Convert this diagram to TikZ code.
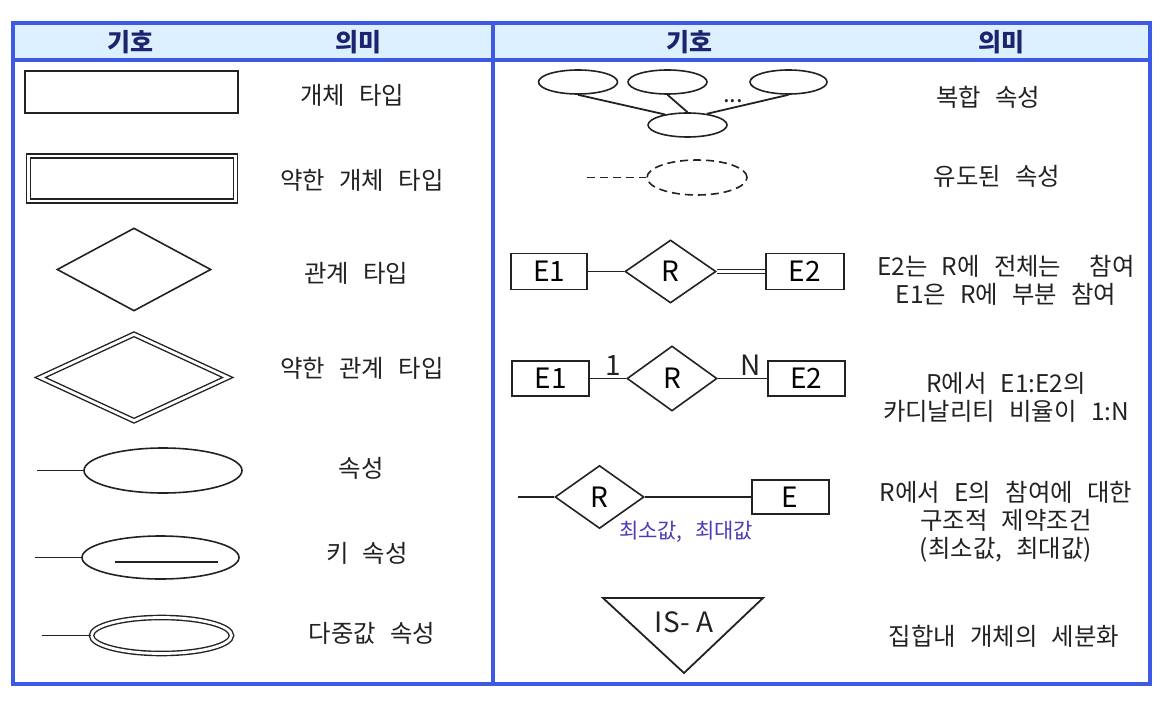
\documentclass[tikz,border=0pt]{standalone}
\usepackage{fontspec}
\setmainfont[WordSpace=2.6]{Noto Sans CJK KR}
\usepackage{tikz}
\usetikzlibrary{shapes.geometric, positioning, calc}
\definecolor{frm}{HTML}{3C5AE6}
\definecolor{fHead}{HTML}{DDF0FF}
\definecolor{hdTxt}{HTML}{1C2470}
\definecolor{ink}{HTML}{222222}
\definecolor{cbLbl}{HTML}{4A3DB5}
\newcommand{\kfont}{\fontsize{12.2}{14}\selectfont}
\newcommand{\symf}{\fontsize{14}{16}\selectfont}
\tikzset{
  box/.style={draw=ink, line width=0.9pt, inner sep=0pt, font=\symf},
  dia/.style={diamond, draw=ink, line width=0.8pt, inner sep=0pt, font=\symf},
  ell/.style={ellipse, draw=ink, line width=0.8pt, inner sep=0pt},
  dbl/.style={double, double distance=1.4pt, line width=0.7pt},
  ln/.style={draw=ink, line width=0.9pt},
  txt/.style={font=\kfont, align=center, text=ink, inner sep=1pt},
  hd/.style={font=\fontsize{12.5}{14}\selectfont\bfseries, text=hdTxt},
  sym/.style={font=\symf, text=ink, inner sep=1pt},
}
\begin{document}
\begin{tikzpicture}[x=0.5pt, y=-0.5pt]
\useasboundingbox (0,0) rectangle (1170,700);

% ── table frame ─────────────────────────────────────────────────────────────
\fill[fHead] (13,23) rectangle (1150,60);
\draw[frm, line width=1.6pt] (13,23) rectangle (1150,684);
\draw[frm, line width=1.6pt] (13,60) -- (1150,60);
\draw[frm, line width=1.6pt] (493,23) -- (493,684);

\node[hd] (hSymL) at (130,42) {기호};
\node[hd] (hMeanL) at (358,42) {의미};
\node[hd] (hSymR) at (689,42) {기호};
\node[hd] (hMeanR) at (1001,42) {의미};

% ── left column: entity, relation, attribute symbols ────────────────────────
\node[box, minimum width=106.5pt, minimum height=21pt] (ent) at (131.5,92) {};
\node[box, dbl, minimum width=103.5pt, minimum height=22.5pt] (went) at (132,178.5) {};
\node[dia, minimum width=77pt, minimum height=41.5pt] (rel) at (134,269.5) {};
\node[dia, dbl, minimum width=94pt, minimum height=43.5pt] (wrel) at (134,377.5) {};

\node[ell, minimum width=79pt, minimum height=22.5pt] (att) at (163,470.5) {};
\coordinate (attS) at (37,470.5);
\draw[ln] (attS) -- (att.west);

\node[ell, minimum width=78.5pt, minimum height=21.5pt] (key) at (160.5,557.5) {};
\coordinate (keyS) at (35,557.5);
\draw[ln] (keyS) -- (key.west);
\draw[ln] ([xshift=-22.75pt,yshift=-2.25pt]key.center) -- ([xshift=28.75pt,yshift=-2.25pt]key.center);

\node[ell, dbl, minimum width=70pt, minimum height=18pt] (mval) at (161.5,635.5) {};
\coordinate (mvalS) at (42,635.5);
\draw[ln] (mvalS) -- (mval.west);

\node[txt] (tEnt) at (352,95) {개체 타입};
\node[txt] (tWent) at (362,180) {약한 개체 타입};
\node[txt] (tRel) at (356,273) {관계 타입};
\node[txt] (tWrel) at (362,368) {약한 관계 타입};
\node[txt] (tAtt) at (361,468) {속성};
\node[txt] (tKey) at (367,553) {키 속성};
\node[txt] (tMval) at (372,633) {다중값 속성};

% ── right column: composite / derived attributes ────────────────────────────
\node[ell, minimum width=39.5pt, minimum height=12pt] (cp1) at (578,82) {};
\node[ell, minimum width=39.5pt, minimum height=12pt] (cp2) at (667.5,82) {};
\node[ell, minimum width=38.5pt, minimum height=12pt] (cp3) at (788.5,82) {};
\node[ell, minimum width=39.5pt, minimum height=12pt] (cp0) at (687.5,125) {};
\draw[ln] (cp1.south) -- (cp0.155);
\draw[ln] (cp2.south) -- (cp0.north);
\draw[ln] (cp3.south) -- (cp0.30);
\node[sym, font=\fontsize{12}{14}\selectfont] (dots) at (733,101) {...};

\node[ell, dashed, dash pattern=on 4pt off 2.5pt, minimum width=50pt, minimum height=17.5pt] (der) at (697,177.5) {};
\coordinate (derS) at (587,177.5);
\draw[ln, dash pattern=on 4pt off 2.5pt] (derS) -- (der.west);

% ── right column: participation / cardinality / (min,max) ───────────────────
\node[dia, minimum width=45.5pt, minimum height=31.5pt] (r1) at (670.5,271.5) {R};
\node[box, minimum width=38pt, minimum height=18pt, left=18pt of r1] (e1a) {E1};
\node[box, minimum width=39pt, minimum height=18pt, right=24pt of r1] (e2a) {E2};
\draw[ln] (e1a) -- (r1);
\draw[ln, dbl, double distance=1.2pt, line width=0.6pt] (r1) -- (e2a);

\node[dia, minimum width=45pt, minimum height=32.5pt] (r2) at (672,378.5) {R};
\node[box, minimum width=38.5pt, minimum height=17.5pt, left=18pt of r2] (e1b) {E1};
\node[box, minimum width=38.5pt, minimum height=17.5pt, right=24.5pt of r2] (e2b) {E2};
\draw[ln] (e1b) -- (r2) node[pos=0.65, above, sym] {1};
\draw[ln] (r2) -- (e2b) node[pos=0.67, above, sym] {N};

\node[dia, minimum width=44.5pt, minimum height=31.5pt] (r3) at (599.5,497) {R};
\node[box, minimum width=38.5pt, minimum height=17pt, right=53pt of r3] (e3) {E};
\coordinate (r3S) at (518,497);
\draw[ln] (r3S) -- (r3.west);
\draw[ln] (r3) -- (e3);
\node[font=\fontsize{10.5}{12}\selectfont, text=cbLbl] (mm) at (686,532) {최소값, 최대값};

% ── IS-A ────────────────────────────────────────────────────────────────────
\draw[ln] (603,598) -- (763,598) -- (684,673) -- cycle;
\node[sym] (isa) at (684,622) {IS-\hspace{3pt}A};

\node[txt] (tCp) at (988,97) {복합 속성};
\node[txt] (tDer) at (997,176) {유도된 속성};
\node[txt] (tPart) at (1006,280) {E2는 R에 전체는\ \ 참여\\E1은 R에 부분 참여};
\node[txt] (tCard) at (1006,397) {R에서 E1:E2의\\카디날리티 비율이 1:N};
\node[txt] (tMm) at (1006,522) {R에서 E의 참여에 대한\\구조적 제약조건\\(최소값, 최대값)};
\node[txt] (tIsa) at (1004,636) {집합내 개체의 세분화};

\end{tikzpicture}
\end{document}
